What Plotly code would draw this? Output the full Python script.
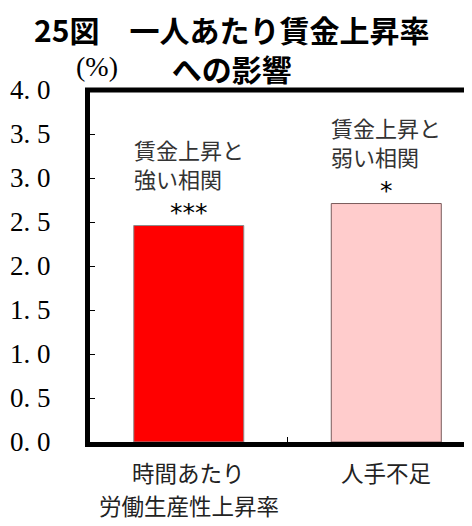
import plotly.graph_objects as go

# ---- data ----
categories = ["時間あたり<br>労働生産性上昇率", "人手不足"]
values = [2.46, 2.71]
significance = ["***", "*"]
notes = ["賃金上昇と<br>強い相関", "賃金上昇と<br>弱い相関"]
bar_colors = ["#FF0000", "#FFCCCC"]
bar_edge_colors = ["#8C8C8C", "#7A5C5C"]
y_tickvals = [0.0, 0.5, 1.0, 1.5, 2.0, 2.5, 3.0, 3.5, 4.0]
y_ticktext = ["0. 0", "0. 5", "1. 0", "1. 5", "2. 0", "2. 5", "3. 0", "3. 5", "4. 0"]
title_text = "25図　一人あたり賃金上昇率<br>への影響"
unit_label = "(%)"

# the page body adds an 8px offset, so the figure is 8px smaller than the window
OFF = 8
W, H = 472 - OFF, 526 - OFF
L, R, T, B = 82, 0, 82, 84
plot_w = W - L - R
plot_h = H - T - B

JP = "Noto Sans CJK JP"
SERIF = "Liberation Serif"


def px_x(ref_px):
    """window pixel -> paper x"""
    return (ref_px - OFF - L) / plot_w


def px_y(ref_py):
    """window pixel -> paper y"""
    return (H - B - (ref_py - OFF)) / plot_h


fig = go.Figure()
fig.add_trace(go.Bar(
    x=categories, y=values, width=0.557,
    marker=dict(color=bar_colors, line=dict(color=bar_edge_colors, width=1)),
    hoverinfo="skip",
))

annotations = []
for cat, v, sig, note in zip(categories, values, significance, notes):
    annotations.append(dict(x=cat, y=v, xref="x", yref="y", text=sig, showarrow=False,
                            yanchor="middle", yshift=13,
                            font=dict(family="DejaVu Sans", size=25, color="#000")))
    annotations.append(dict(x=cat, y=v, xref="x", yref="y", text=note, showarrow=False,
                            yanchor="middle", yshift=62, align="left",
                            font=dict(family=JP, size=22, color="#333")))
    for i, line in enumerate(cat.split("<br>")):
        annotations.append(dict(x=cat, y=0, xref="x", yref="paper", text=line, showarrow=False,
                                yanchor="middle", yshift=-(30 + 33 * i),
                                font=dict(family=JP, size=22.5, color="#222")))

# title (two lines)
annotations.append(dict(x=px_x(231), y=px_y(48.5), xref="paper", yref="paper",
                        text="<b>" + title_text + "</b>", showarrow=False,
                        xanchor="center", yanchor="middle", borderpad=0,
                        font=dict(family=JP, size=30, color="#000")))
# unit label
annotations.append(dict(x=px_x(97), y=px_y(66), xref="paper", yref="paper",
                        text=unit_label, showarrow=False, xanchor="center", yanchor="middle",
                        font=dict(family=SERIF, size=28, color="#000")))

shapes = [
    # top frame line
    dict(type="line", xref="paper", yref="paper", x0=px_x(85), x1=1.0, y0=1, y1=1,
         line=dict(color="#000", width=5)),
]

fig.update_layout(
    width=W, height=H,
    margin=dict(l=L, r=R, t=T, b=B, pad=0),
    paper_bgcolor="white", plot_bgcolor="white",
    showlegend=False,
    annotations=annotations,
    shapes=shapes,
)
fig.update_xaxes(type="category", range=[-0.5, 1.434], showticklabels=False,
                 showline=True, linecolor="#000", linewidth=5,
                 ticks="inside", tickson="boundaries", ticklen=5, tickwidth=1, tickcolor="#000",
                 showgrid=False, zeroline=False, fixedrange=True)
fig.update_yaxes(range=[0, 4], tickvals=y_tickvals, ticktext=y_ticktext,
                 showline=True, linecolor="#000", linewidth=5,
                 ticks="inside", ticklen=5, tickwidth=1, tickcolor="#000",
                 ticklabelstandoff=29,
                 tickfont=dict(family=SERIF, size=27, color="#000"),
                 showgrid=False, zeroline=False, fixedrange=True)

fig.write_html("out.html")
